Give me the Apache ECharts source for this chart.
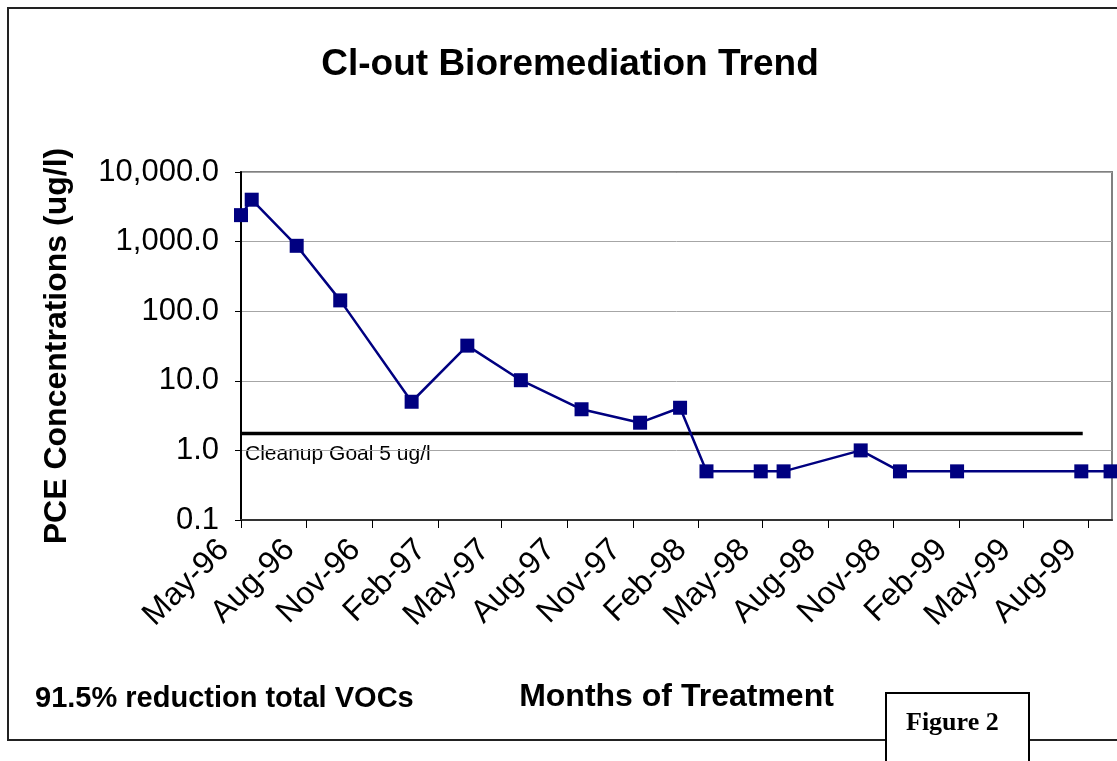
<!DOCTYPE html>
<html>
<head>
<meta charset="utf-8">
<script src="https://cdn.jsdelivr.net/npm/echarts@6/dist/echarts.min.js"></script>
<style>
html,body{margin:0;padding:0;background:#fff;}
#chart{width:1117px;height:761px;}
</style>
</head>
<body>
<div id="chart"></div>
<script>
// ---- data ----
const sampleDates = ['1996-05-01','1996-05-16','1996-07-18','1996-09-17','1996-12-26','1997-03-14','1997-05-28','1997-08-21','1997-11-11','1998-01-06','1998-02-12','1998-04-29','1998-05-31','1998-09-16','1998-11-10','1999-01-29','1999-07-22','1999-09-01'];
const pceValues = [2400, 4000, 870, 143, 5.0, 32, 10.2, 3.9, 2.5, 4.1, 0.5, 0.5, 0.5, 1.0, 0.5, 0.5, 0.5, 0.5];
const goalDates = ['1996-05-01','1999-07-24'];
const goalValues = [1.75, 1.75];
const tickDates = ['1996-05-01','1996-08-01','1996-11-01','1997-02-01','1997-05-01','1997-08-01','1997-11-01','1998-02-01','1998-05-01','1998-08-01','1998-11-01','1999-02-01','1999-05-01','1999-08-01'];
const tickLabels = ['May-96','Aug-96','Nov-96','Feb-97','May-97','Aug-97','Nov-97','Feb-98','May-98','Aug-98','Nov-98','Feb-99','May-99','Aug-99'];
const axisStart = '1996-05-01';
const axisEnd = '1999-09-03';

// dates -> day number
const dayNum = s => Math.round(Date.parse(s + 'T00:00:00Z') / 86400000);
const tickDays = tickDates.map(dayNum);

const chart = echarts.init(document.getElementById('chart'), null, {renderer: 'canvas'});
const FONT = '"Liberation Sans", Arial, sans-serif';

const option = {
  animation: false,
  backgroundColor: '#fff',
  title: {
    text: 'Cl-out Bioremediation Trend',
    left: 565, top: 41, textAlign: 'center',
    textStyle: {fontFamily: FONT, fontWeight: 'bold', fontSize: 37, color: '#000'}
  },
  grid: {left: 241, top: 172, width: 871, height: 348, show: true, borderColor: '#808080', borderWidth: 2, backgroundColor: 'transparent'},
  xAxis: {
    type: 'value',
    min: dayNum(axisStart), max: dayNum(axisEnd),
    name: 'Months of Treatment', nameLocation: 'middle', nameGap: 161,
    nameTextStyle: {fontFamily: FONT, fontWeight: 'bold', fontSize: 32, color: '#000'},
    axisLine: {show: true, lineStyle: {color: '#333', width: 2}},
    axisTick: {show: true, customValues: tickDays, length: 8, lineStyle: {color: '#000', width: 1}},
    axisLabel: {
      customValues: tickDays, rotate: 45, margin: 8, padding: [0, 24, 0, 0],
      fontFamily: FONT, fontSize: 32, color: '#000',
      formatter: function (v) { const i = tickDays.indexOf(v); return i >= 0 ? tickLabels[i] : ''; }
    },
    splitLine: {show: false}
  },
  yAxis: {
    type: 'log', logBase: 10, min: 0.1, max: 10000,
    name: 'PCE Concentrations (ug/l)', nameLocation: 'middle', nameGap: 168, nameRotate: 90,
    nameTextStyle: {fontFamily: FONT, fontWeight: 'bold', fontSize: 32, color: '#000'},
    axisLine: {show: true, lineStyle: {color: '#000', width: 2}},
    axisTick: {show: true, length: 6, lineStyle: {color: '#000'}},
    axisLabel: {
      margin: 22, fontFamily: FONT, fontSize: 31, color: '#000',
      formatter: function (v) { return Number(v).toLocaleString('en-US', {minimumFractionDigits: 1, maximumFractionDigits: 1}); }
    },
    splitLine: {show: true, lineStyle: {color: '#a6a6a6', width: 1}},
    minorTick: {show: false}
  },
  series: [
    {
      name: 'Cleanup Goal', type: 'line',
      data: goalDates.map((d, i) => [dayNum(d), goalValues[i]]),
      showSymbol: false, symbol: 'none',
      lineStyle: {color: '#000', width: 3.5},
      z: 2
    },
    {
      name: 'PCE', type: 'line',
      data: sampleDates.map((d, i) => [dayNum(d), pceValues[i]]),
      symbol: 'rect', symbolSize: 14,
      itemStyle: {color: '#000080'},
      lineStyle: {color: '#000080', width: 2.5},
      z: 3
    }
  ],
  graphic: [
    {type: 'rect', shape: {x: 8, y: 8, width: 1120, height: 732}, style: {fill: 'none', stroke: '#222', lineWidth: 2}, silent: true, z: -10},
    {type: 'text', left: 245, top: 444, style: {text: 'Cleanup Goal 5 ug/l', font: '21px ' + FONT, fill: '#000'}},
    {type: 'text', left: 35, top: 684, style: {text: '91.5% reduction total VOCs', font: 'bold 29px ' + FONT, fill: '#000'}},
    {type: 'rect', shape: {x: 886, y: 693, width: 143, height: 90}, style: {fill: '#fff', stroke: '#000', lineWidth: 2}, z: 10},
    {type: 'text', left: 906, top: 710, style: {text: 'Figure 2', font: 'bold 26px "Liberation Serif", "Times New Roman", serif', fill: '#000'}, z: 11}
  ]
};
chart.setOption(option);
</script>
</body>
</html>
